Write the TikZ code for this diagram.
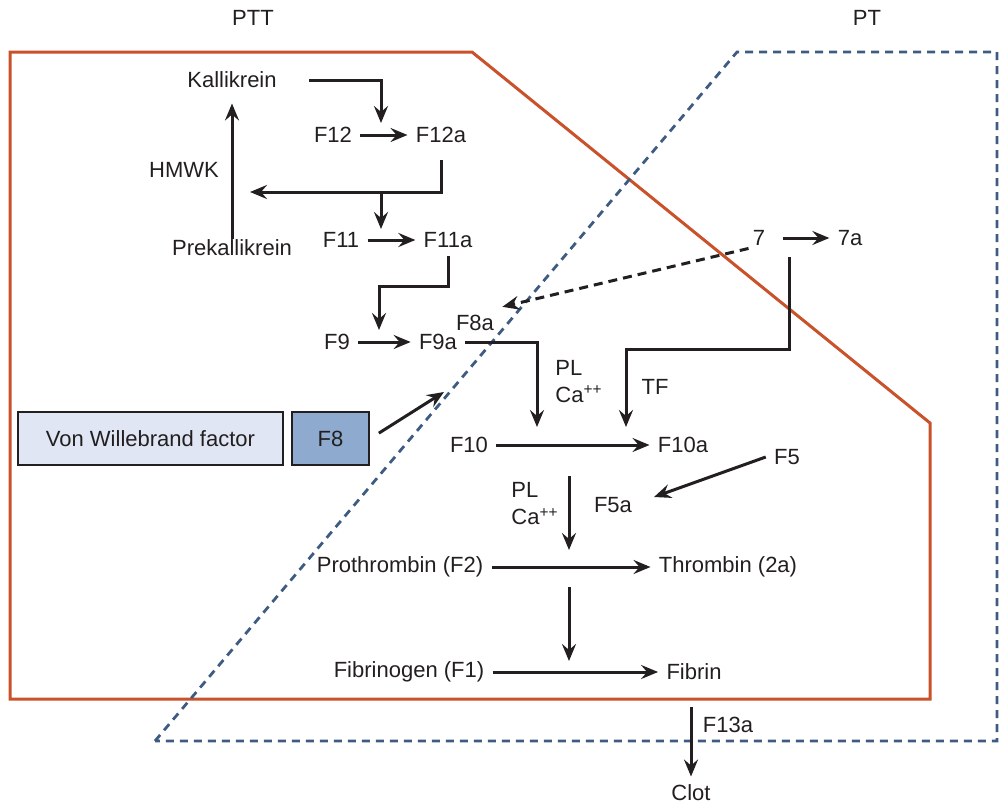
\documentclass[tikz,border=0pt]{standalone}
\usepackage{fontspec}
\setmainfont{Liberation Sans}
\usetikzlibrary{arrows.meta,calc}

\definecolor{pttorange}{RGB}{201,82,42}
\definecolor{ptblue}{RGB}{62,92,130}
\definecolor{vwffill}{RGB}{224,230,243}
\definecolor{feightfill}{RGB}{142,170,206}
\definecolor{ink}{RGB}{35,31,32}

\tikzset{
  factor/.style={inner sep=4pt, text=ink},
  reaction/.style={draw=ink, line width=1.5pt, -{Stealth[length=8.5pt,width=7pt,inset=3pt]}},
  dashreaction/.style={reaction, dash pattern=on 4.5pt off 3pt},
  pttline/.style={draw=pttorange, line width=1.5pt},
  ptline/.style={draw=ptblue, line width=1.4pt, dash pattern=on 4pt off 3pt},
  proteinbox/.style={draw=ink, line width=1.4pt, text=ink, minimum height=26.5pt, inner sep=0pt},
}

\begin{document}
\begin{tikzpicture}[x=0.5pt, y=-0.5pt, font=\fontsize{11}{13.5}\selectfont]
\useasboundingbox (0,0) rectangle (1008,803);
\draw[pttline] (10,52) -- (472,52) -- (930,423) -- (930,699) -- (10,699) -- cycle;
\draw[ptline] (155,741) -- (737,52) -- (997,52) -- (997,741) -- cycle;
\node[factor] (ptt) at (253,18) {PTT};
\node[factor] (pt) at (867,18) {PT};

\node[factor] (kal) at (232,80) {Kallikrein};
\node[factor] (prekal) at (232,248) {Prekallikrein};
\node[factor] (hmwk) at (184,170) {HMWK};
\node[factor] (f12) at (333,135) {F12};
\node[factor] (f12a) at (441,135) {F12a};
\node[factor] (f11) at (341,240) {F11};
\node[factor] (f11a) at (448,240) {F11a};
\node[factor] (f9) at (337,342) {F9};
\node[factor] (f9a) at (438,342) {F9a};
\node[factor] (f8a) at (475,323) {F8a};
\node[factor] (f7) at (759,238) {7};
\node[factor] (f7a) at (850,238) {7a};
\node[factor, align=left, anchor=west] (cofa) at (547,381.5) {PL\\Ca\textsuperscript{++}};
\node[factor] (tf) at (655,387) {TF};
\node[factor] (f10) at (469,445) {F10};
\node[factor] (f10a) at (683,445) {F10a};
\node[factor] (f5) at (787,457) {F5};
\node[factor] (f5a) at (613,505) {F5a};
\node[factor, align=left, anchor=west] (cofb) at (503,504) {PL\\Ca\textsuperscript{++}};
\node[factor] (prothr) at (400,567) {Prothrombin (F2)};
\node[factor] (thromb) at (728,567) {Thrombin (2a)};
\node[factor] (fibrgn) at (409,672) {Fibrinogen (F1)};
\node[factor] (fibrin) at (694,672) {Fibrin};
\node[factor] (f13a) at (728,725) {F13a};
\node[factor] (clot) at (691,793) {Clot};
\node[proteinbox, fill=vwffill, minimum width=132.5pt] (vwf) at (150.5,438.5) {Von Willebrand factor};
\node[proteinbox, fill=feightfill, minimum width=38.5pt] (f8) at (330.5,438.5) {F8};

\coordinate (f12cat) at (381,123);
\coordinate (hk) at (250,192);
\coordinate (j1) at (381,192);
\coordinate (f11cat) at (381,229);
\coordinate (f9cat) at (379,330);
\coordinate (f10cat) at (537,427);
\coordinate (s7) at (789,257);
\coordinate (f10tf) at (626,427);
\coordinate (f8tip) at (444,392);
\coordinate (f5tip) at (654,497);
\coordinate (c10) at (569,476);
\coordinate (c2) at (569,550);
\coordinate (c2b) at (569,587);
\coordinate (c1) at (569,661);

\draw[reaction] ([xshift=12pt]kal.east) -| (f12cat);
\draw[reaction] (f12) -- (f12a);
\draw[reaction] ([yshift=-4.5pt]f12a.south) |- (hk);
\draw[reaction] (j1) -- (f11cat);
\draw[reaction, shorten <=-3.5pt, shorten >=3.5pt] (prekal.north) -- (kal.south);
\draw[reaction] (f11) -- (f11a);
\draw[reaction] (f11a.south) -- ++(0,30) -| (f9cat);
\draw[reaction] (f9) -- (f9a);
\draw[reaction] (f9a.east) -| (f10cat);
\draw[reaction, shorten <=4.5pt] (f7) -- (f7a);
\draw[reaction] (s7) -- ++(0,92) -| (f10tf);
\draw[dashreaction, shorten <=1pt] ([xshift=3pt,yshift=3pt]f7.south west) -- (f8a.north east);
\draw[reaction, shorten <=5pt] (f8.east) -- (f8tip);
\draw[reaction] (f10) -- (f10a);
\draw[reaction] (f5.west) -- (f5tip);
\draw[reaction] (c10) -- (c2);
\draw[reaction] (prothr) -- (thromb);
\draw[reaction] (c2b) -- (c1);
\draw[reaction] (fibrgn) -- (fibrin);
\draw[reaction, shorten <=9.5pt] (fibrin.south -| clot.north) -- (clot.north);
\end{tikzpicture}
\end{document}
